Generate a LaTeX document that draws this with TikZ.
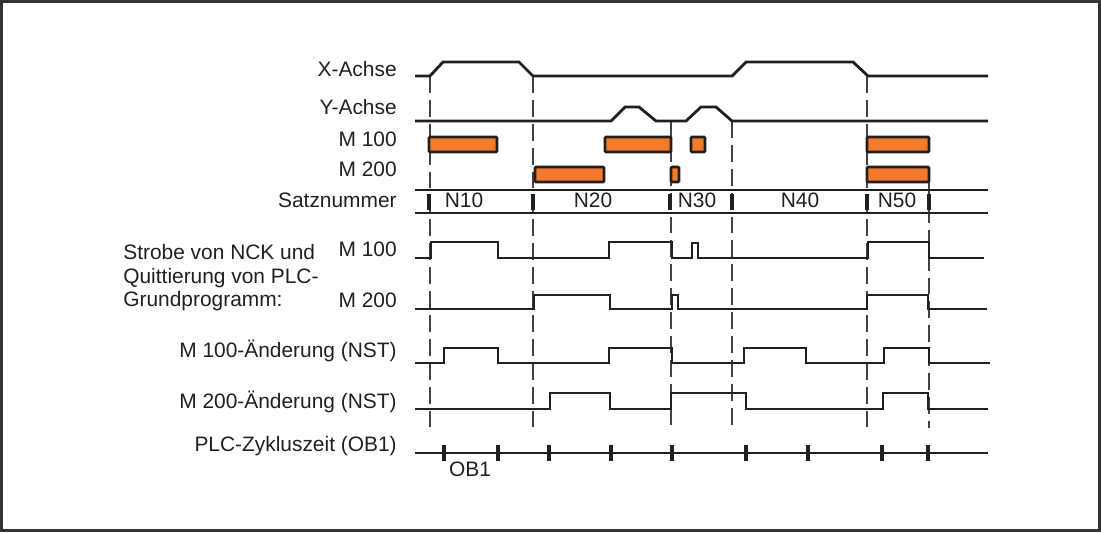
\documentclass[tikz,border=0pt]{standalone}
\usepackage{fontspec}
\setmainfont{Liberation Sans}
\usepackage{tikz}
\definecolor{mboxorange}{HTML}{F37A2B}
\definecolor{inkblack}{HTML}{231F20}
\tikzset{
    lbl/.style={anchor=base east, inner sep=0pt, text=inkblack},
    blocklbl/.style={anchor=base, inner sep=0pt, text=inkblack},
    signal/.style={draw=inkblack, line width=1.6pt, line join=miter},
    mbox/.style={draw=inkblack, fill=mboxorange, line width=1.5pt, rounded corners=0.6pt},
    rail/.style={draw=inkblack, line width=0.9pt},
    blocktick/.style={draw=inkblack, line width=2.1pt},
    cycletick/.style={draw=inkblack, line width=2pt},
    guide/.style={draw=inkblack!85, line width=0.75pt, dash pattern=on 9.6pt off 4pt}
}
\begin{document}
\begin{tikzpicture}[x=0.02cm, y=-0.02cm, font=\fontsize{11.9}{13.3}\selectfont]
    \useasboundingbox (0,0) rectangle (1101,532);
    \draw[line width=1.3pt, draw=black!80] (1.5,1.5) rectangle (1099.5,530.5);

    \node[lbl] (xlbl) at (397,76) {X-Achse};
    \node[lbl] (ylbl) at (397,114) {Y-Achse};
    \node[lbl] (m1lbl) at (397,146.5) {M 100};
    \node[lbl] (m2lbl) at (397,176.5) {M 200};
    \node[lbl] (satzlbl) at (397,207) {Satznummer};
    \node[lbl] (strobem1) at (397,256.5) {M 100};
    \node[lbl] (strobem2) at (397,307) {M 200};
    \node[anchor=base west, inner sep=0pt, align=left, text=inkblack] (strobetxt) at (123,306.5)
        {Strobe von NCK und\\Quittierung von PLC-\\Grundprogramm:};
    \node[lbl] (m1chg) at (397,357) {M 100-Änderung (NST)};
    \node[lbl] (m2chg) at (397,408) {M 200-Änderung (NST)};
    \node[lbl] (plclbl) at (397,451.5) {PLC-Zykluszeit (OB1)};

    \foreach \gx/\gtop/\gbot in {430/76/430, 533/76/430, 671/121/428, 732/121/428, 867/76/430, 929/182/428}
        \draw[guide] (\gx,\gtop) -- (\gx,\gbot);

    \draw[signal] (415,76) -- (430,76) -- (443,62) -- (519,62) -- (533,76) -- (732,76)
        -- (746,62) -- (853,62) -- (868,76) -- (988,76);
    \draw[signal] (415,121) -- (611,121) -- (625,107) -- (639,107) -- (656,121) -- (686,121)
        -- (701,107) -- (716,107) -- (732,121) -- (988,121);

    \foreach \bl/\br in {429/497, 605/671, 691/705, 867/929}
        \draw[mbox] (\bl,137) rectangle (\br,152);
    \foreach \bl/\br in {535/604, 671/679, 867/929}
        \draw[mbox] (\bl,167) rectangle (\br,182);

    \draw[rail] (415,190) -- (988,190);
    \draw[rail] (415,213) -- (988,213);
    \foreach \tx in {429, 533, 670, 732, 867, 929}
        \draw[blocktick] (\tx,194) -- (\tx,210);
    \foreach \nx/\nlab in {464/N10, 593/N20, 697/N30, 800/N40, 897/N50}
        \node[blocklbl] (blk\nlab) at (\nx,207) {\nlab};

    \draw[signal] (415,258) -| (431,242) -| (498,258) -| (609,242) -| (672,258) -| (692,243)
        -| (698,258) -| (868,242) -| (929,258) -- (984,258);
    \draw[signal] (415,309) -| (534,295) -| (610,309) -| (672,295) -| (678,309) -| (867,295)
        -| (928,309) -- (987,309);
    \draw[signal] (415,363) -| (444,348) -| (498,363) -| (609,348) -| (672,363) -| (744,348)
        -| (806,363) -| (884,348) -| (929,363) -- (990,363);
    \draw[signal] (415,409) -| (550,393) -| (610,409) -| (671,393) -| (746,409) -| (883,393)
        -| (928,409) -- (988,409);

    \draw[signal] (415,453) -- (988,453);
    \foreach \cx in {444, 498, 549, 611, 672, 746, 808, 882, 928}
        \draw[cycletick] (\cx,445) -- (\cx,461);
    \node[blocklbl] (ob1) at (470,476) {OB1};
\end{tikzpicture}
\end{document}
